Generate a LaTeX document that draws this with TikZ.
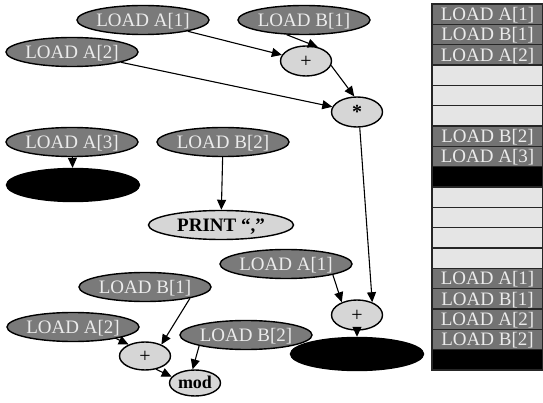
\documentclass[tikz,border=0pt]{standalone}
\usepackage{fontspec}
\setmainfont{Liberation Serif}
\usetikzlibrary{shapes.geometric,arrows.meta}
% centred label that does not widen its node
\newcommand\ctext[1]{\makebox[0pt]{\raisebox{-.33em}{#1}}}

\begin{document}
\begin{tikzpicture}[x=1pt,y=-1pt,
  base/.style={ellipse, draw=black, line width=1.4pt, inner sep=0pt,
    text height=0pt, text depth=0pt},
  load/.style={base, fill=black!52, minimum width=132pt, minimum height=29pt,
    text=white!92!black, font=\fontsize{19}{19}\selectfont},
  op/.style={base, fill=black!16, minimum width=51pt, minimum height=30pt,
    font=\fontsize{20}{20}\selectfont},
  sink/.style={base, fill=black, minimum width=133pt, minimum height=33pt},
  printbox/.style={base, fill=black!16, minimum width=145pt, minimum height=29pt,
    font=\fontsize{19}{19}\selectfont\bfseries},
  flow/.style={draw, line width=1.1pt, -{Triangle[length=10pt,width=9pt]}},
  slot/.style={draw=black!85, line width=1.2pt, minimum width=111pt,
    minimum height=20.33pt, inner sep=0pt, text height=0pt, text depth=0pt,
    font=\fontsize{19}{19}\selectfont},
  slotload/.style={slot, fill=black!55, text=white!92!black},
  slotfree/.style={slot, fill=black!10},
  slotbusy/.style={slot, fill=black},
]
\useasboundingbox (0,0) rectangle (543,403);

% first expression
\node[load] (la1) at (143,20) {\ctext{LOAD A[1]}};
\node[load] (lb1) at (304,20) {\ctext{LOAD B[1]}};
\node[load] (la2) at (72,52) {\ctext{LOAD A[2]}};
\node[op] (p1) at (306,61) {\ctext{+}};
\node[op] (st) at (357,112) {\ctext{\bfseries *}};

% print branch
\node[load] (la3) at (72,142) {\ctext{LOAD A[3]}};
\node[sink] (s1) at (73,185) {};
\node[load] (lb2m) at (223,142) {\ctext{LOAD B[2]}};
\node[printbox] (pr) at (221,225) {\ctext{PRINT “,”}};

% second sum
\node[load] (la1b) at (286,264) {\ctext{LOAD A[1]}};
\node[op] (p2) at (357,315) {\ctext{+}};
\node[sink] (s2) at (357,354) {};

% modulo expression
\node[load] (lb1b) at (145,287) {\ctext{LOAD B[1]}};
\node[load] (la2b) at (73,327) {\ctext{LOAD A[2]}};
\node[load] (lb2b) at (246,335) {\ctext{LOAD B[2]}};
\node[op, minimum height=28pt] (p3) at (145,356) {\ctext{+}};
\node[op, minimum height=26pt, font=\fontsize{18}{18}\selectfont\bfseries] (md) at (195,383) {\ctext{mod}};

% data flow
\draw[flow] (la1) -- (p1);
\draw[flow] (lb1.220) -- (p1.50);
\draw[flow] (la2) -- (st);
\draw[flow] (p1.-10) -- (st.100);
\draw[flow] (st.-80) -- (p2.40);
\draw[flow] (la1b.-13) -- (p2.140);
\draw[flow] (p2) -- (s2);
\draw[flow] (la3) -- (s1);
\draw[flow] (lb2m) -- (pr);
\draw[flow] (lb1b.-14) -- (p3.35);
\draw[flow] (la2b.-15) -- (p3.145);
\draw[flow] (p3.-50) -- (md.165);
\draw[flow] (lb2b.193) -- (md.100);

% slot column
\foreach \i/\kind/\txt in {1/slotload/LOAD A[1], 2/slotload/LOAD B[1],
    3/slotload/LOAD A[2], 4/slotfree/, 5/slotfree/, 6/slotfree/,
    7/slotload/LOAD B[2], 8/slotload/LOAD A[3], 9/slotbusy/,
    10/slotfree/, 11/slotfree/, 12/slotfree/, 13/slotfree/,
    14/slotload/LOAD A[1], 15/slotload/LOAD B[1], 16/slotload/LOAD A[2],
    17/slotload/LOAD B[2], 18/slotbusy/}
  \node[\kind] (row\i) at (487.5,{4+(\i-0.5)*20.33}) {\ctext{\txt}};
\end{tikzpicture}
\end{document}
